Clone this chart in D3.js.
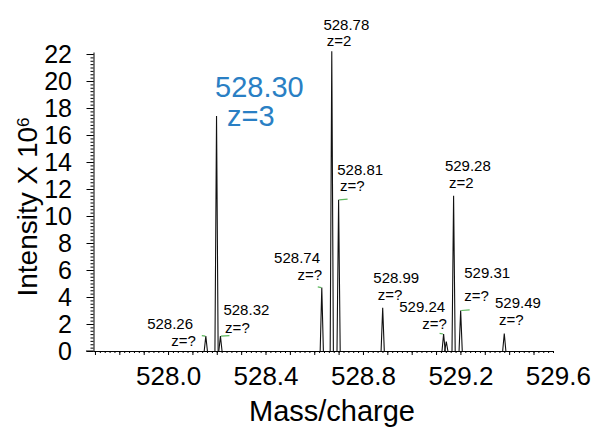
<!DOCTYPE html>
<html>
<head>
<meta charset="utf-8">
<script src="https://cdn.jsdelivr.net/npm/d3@7"></script>
<style>
  body { margin: 0; background: #fff; }
  svg { display: block; font-family: "Liberation Sans", Arial, sans-serif; }
</style>
</head>
<body>
<svg id="chart" width="594" height="427"></svg>
<script>
// peak centroids (axis units)
const peakMz = [528.155, 528.199, 528.215, 528.631, 528.672, 528.700, 528.881, 529.131, 529.142, 529.172, 529.201, 529.380];
const peakIntensity = [1.1, 17.4, 1.1, 4.7, 22.2, 11.2, 3.2, 1.26, 0.7, 11.5, 3.0, 1.3];
const peakMass = ["528.26", "528.30", "528.32", "528.74", "528.78", "528.81", "528.99", "529.24", null, "529.28", "529.31", "529.49"];
const peakCharge = ["z=?", "z=3", "z=?", "z=?", "z=2", "z=?", "z=?", "z=?", null, "z=2", "z=?", "z=?"];
// -1 = green flag on left, 1 = right, 0 = none
const flagSide = [-1, 0, 1, -1, 0, 1, 0, -1, 0, 0, 1, 0];

const xTickLabels = [528.0, 528.4, 528.8, 529.2, 529.6];
const yTickLabels = d3.range(0, 23, 2);

// label placement relative to peak top (px): [dx1, dy1, dx2, dy2]
const labelOffsets = [
  [-58.7, -7.5, -34.7, 9.7],
  [-1.5, -18.7, 10.5, 10.3],
  [3, -21, 4.7, -3],
  [-47.7, -24.6, -24.4, -8],
  [-8.4, -21.7, -5, -5],
  [-1.4, -25.3, 1.3, -8.6],
  [-9.4, -24.4, -5, -7.7],
  [-44.4, -22.3, -21.4, -5],
  null,
  [-8.7, -25, -4.7, -7.4],
  [3.6, -32.3, 3.6, -10],
  [-9.3, -25, -5.3, -8.3]
];

const svg = d3.select("#chart");

const x = d3.scaleLinear().domain([527.694, 529.58]).range([93.5, 553]);
const y = d3.scaleLinear().domain([0, 22.15]).range([351, 52]);

// y axis
const yAxisG = svg.append("g").attr("transform", "translate(93.5,0)");
yAxisG.call(d3.axisLeft(y).tickValues(d3.range(0, 22.01, 0.25)).tickSize(3).tickSizeOuter(0).tickFormat(""));
yAxisG.append("g").call(d3.axisLeft(y).tickValues(yTickLabels).tickSize(7).tickPadding(14.5).tickSizeOuter(0))
  .call(g => g.select(".domain").remove())
  .selectAll("text")
  .attr("fill", "#000")
  .style("font-size", "25px")
  .style("font-family", "'Liberation Sans', Arial, sans-serif");

// x axis
const xAxisG = svg.append("g").attr("transform", "translate(0,351)");
xAxisG.call(d3.axisBottom(x).tickValues(d3.range(527.70, 529.581, 0.02)).tickSize(2).tickSizeOuter(0).tickFormat(""));
xAxisG.append("g").call(d3.axisBottom(x).tickValues(d3.range(527.70, 529.581, 0.1)).tickSize(4).tickFormat(""))
  .call(g => g.select(".domain").remove());
xAxisG.append("g").call(d3.axisBottom(x).tickValues(xTickLabels).tickSize(0).tickPadding(15.5).tickFormat(d3.format(".1f")))
  .call(g => g.select(".domain").remove())
  .selectAll("text")
  .attr("fill", "#000")
  .style("font-size", "26px")
  .style("font-family", "'Liberation Sans', Arial, sans-serif");

// y axis baseline tick extends left at zero
svg.append("line")
  .attr("x1", 86).attr("x2", 93.5)
  .attr("y1", y(0)).attr("y2", y(0))
  .attr("stroke", "#000");

// axis titles
svg.append("text")
  .attr("x", 332).attr("y", 421)
  .attr("text-anchor", "middle")
  .style("font-size", "29px")
  .text("Mass/charge");

const yTitle = svg.append("text")
  .attr("transform", "translate(37,207) rotate(-90)")
  .attr("text-anchor", "middle")
  .style("font-size", "28px");
yTitle.append("tspan").text("Intensity X 10");
yTitle.append("tspan").attr("dy", "-0.45em").style("font-size", "17px").text("6");

// peaks
const peaks = peakMz.map((mz, i) => ({ mz, value: peakIntensity[i], mass: peakMass[i], charge: peakCharge[i], flag: flagSide[i], off: labelOffsets[i] }));

const line = d3.line().x(d => d[0]).y(d => d[1]);
svg.append("g")
  .selectAll("path")
  .data(peaks)
  .enter()
  .append("path")
  .attr("d", d => line([[x(d.mz) - 1.6, y(0)], [x(d.mz), y(d.value)], [x(d.mz) + 1.6, y(0)]]))
  .attr("fill", "none")
  .attr("stroke", "#111")
  .attr("stroke-width", 1.1);

// green flags on unassigned peaks
svg.append("g")
  .selectAll("line")
  .data(peaks.filter(d => d.flag !== 0))
  .enter()
  .append("line")
  .attr("x1", d => x(d.mz) + d.flag * 0.5)
  .attr("x2", d => x(d.mz) + d.flag * (d.flag > 0 ? 9 : 4))
  .attr("y1", d => y(d.value))
  .attr("y2", d => y(d.value) - 0.6)
  .attr("stroke", "#5cb85c")
  .attr("stroke-width", 1.2);

// labels
const labelled = peaks.filter(d => d.mass);
const lab = svg.append("g")
  .selectAll("g")
  .data(labelled)
  .enter()
  .append("g")
  .attr("transform", d => `translate(${ x(d.mz) },${ y(d.value) })`);

lab.append("text")
  .attr("x", d => d.off[0])
  .attr("y", d => d.off[1])
  .attr("fill", d => d.charge === "z=3" ? "#2a7fc4" : "#000")
  .style("font-size", d => d.charge === "z=3" ? "29px" : "15px")
  .text(d => d.mass);

lab.append("text")
  .attr("x", d => d.off[2])
  .attr("y", d => d.off[3])
  .attr("fill", d => d.charge === "z=3" ? "#2a7fc4" : "#000")
  .style("font-size", d => d.charge === "z=3" ? "29px" : "15px")
  .text(d => d.charge);
</script>
</body>
</html>
